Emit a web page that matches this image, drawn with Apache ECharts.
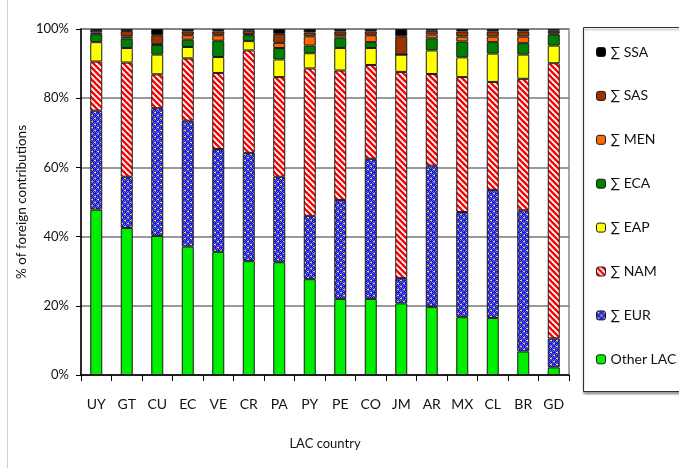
<!DOCTYPE html>
<html>
<head>
<meta charset="utf-8">
<script src="https://cdn.jsdelivr.net/npm/echarts@6/dist/echarts.min.js"></script>
<style>
  html, body { margin: 0; padding: 0; background: #fff; }
  #chart { width: 679px; height: 468px; }
</style>
</head>
<body>
<div id="chart"></div>
<script>
// LAC countries along the x axis
const countries = ['UY', 'GT', 'CU', 'EC', 'VE', 'CR', 'PA', 'PY', 'PE', 'CO', 'JM', 'AR', 'MX', 'CL', 'BR', 'GD'];

// Share of foreign contributions by origin region (%), stacked bottom to top
const otherLAC = [47.8, 42.5, 40.2, 37.1, 35.6, 32.9, 32.6, 27.7, 22.0, 22.0, 20.7, 19.7, 16.7, 16.5, 6.8, 2.2];
const eur      = [28.6, 14.8, 36.9, 36.4, 29.7, 31.3, 24.7, 18.3, 28.6, 40.5, 7.3, 40.8, 30.4, 37.0, 40.8, 8.4];
const nam      = [14.2, 33.0, 9.8, 18.0, 22.0, 29.6, 28.8, 42.6, 37.4, 27.1, 59.6, 26.5, 39.0, 31.2, 38.0, 79.5];
const eap      = [5.6, 4.2, 5.7, 3.3, 4.6, 2.7, 5.1, 4.4, 6.5, 4.9, 5.0, 6.8, 5.7, 8.2, 7.0, 5.1];
const eca      = [2.3, 2.8, 2.8, 2.1, 4.7, 1.7, 3.3, 2.2, 3.0, 1.7, 0.0, 3.5, 4.6, 3.3, 3.3, 3.2];
const men      = [0.5, 0.6, 0.2, 1.3, 1.6, 0.3, 1.5, 2.7, 0.7, 2.0, 0.0, 1.1, 1.4, 1.6, 1.9, 0.3];
const sas      = [0.7, 1.5, 2.6, 1.1, 1.1, 1.0, 2.6, 1.1, 1.1, 1.1, 5.3, 1.1, 1.5, 1.5, 1.5, 0.8];
const ssa      = [0.3, 0.6, 1.8, 0.7, 0.7, 0.5, 1.4, 1.0, 0.7, 0.7, 2.1, 0.5, 0.7, 0.7, 0.7, 0.5];

const yTicks = [0, 20, 40, 60, 80, 100];

// Red diagonal hatch on white
function stripePattern() {
  const s = 6;
  const c = document.createElement('canvas');
  c.width = s; c.height = s;
  const g = c.getContext('2d');
  g.fillStyle = '#ffffff';
  g.fillRect(0, 0, s, s);
  g.strokeStyle = '#ff0000';
  g.lineWidth = 2.4;
  for (let k = -1; k <= 1; k++) {
    g.beginPath();
    g.moveTo(s * k - 1, -1);
    g.lineTo(s * k + s + 1, s + 1);
    g.stroke();
  }
  return { image: c, repeat: 'repeat' };
}

// Blue with a grey checker and small yellow dashes
function dotPattern() {
  const s = 6;
  const c = document.createElement('canvas');
  c.width = s; c.height = s;
  const g = c.getContext('2d');
  g.fillStyle = '#1414ff';
  g.fillRect(0, 0, s, s);
  g.fillStyle = '#7070b0';
  for (let y = 0; y < s; y++) {
    for (let x = 0; x < s; x++) {
      if ((x + y) % 2 === 0 && (y % 3 !== 1)) g.fillRect(x, y, 1, 1);
    }
  }
  g.fillStyle = '#f4e41c';
  g.fillRect(1, 1, 2, 1);
  g.fillRect(4, 4, 2, 1);
  return { image: c, repeat: 'repeat' };
}

const FONT = 'Lato, "Open Sans", sans-serif';
const border = { borderColor: '#1a1a1a', borderWidth: 1 };

function mk(name, data, color) {
  return {
    name: name,
    type: 'bar',
    stack: 'total',
    data: data,
    barWidth: 12,
    itemStyle: Object.assign({ color: color }, border),
    emphasis: { disabled: true }
  };
}

const series = [
  mk('Other LAC', otherLAC, '#00ee00'),
  mk('\u2211 EUR', eur, dotPattern()),
  mk('\u2211 NAM', nam, stripePattern()),
  mk('\u2211 EAP', eap, '#ffff00'),
  mk('\u2211 ECA', eca, '#008000'),
  mk('\u2211 MEN', men, '#ff6600'),
  mk('\u2211 SAS', sas, '#993300'),
  mk('\u2211 SSA', ssa, '#000000')
];

const chart = echarts.init(document.getElementById('chart'), null, { renderer: 'canvas' });
chart.setOption({
  animation: false,
  textStyle: { fontFamily: FONT },
  grid: {
    left: 81, right: 110, top: 29, bottom: 93,
    show: true, borderColor: '#8a8a8a', borderWidth: 1.5, backgroundColor: 'transparent'
  },
  legend: {
    orient: 'vertical',
    left: 591, top: 40,
    itemWidth: 9, itemHeight: 9,
    itemGap: 29.9,
    data: series.map(s => s.name).reverse(),
    textStyle: { fontFamily: FONT, fontSize: 14, color: '#111', lineHeight: 14 },
    selectedMode: false,
    itemStyle: { borderColor: '#1a1a1a', borderWidth: 1 }
  },
  graphic: [
    {
      type: 'rect', z: -1,
      shape: { x: 583.5, y: 27.5, width: 120, height: 364 },
      style: { fill: '#fff', stroke: '#333', lineWidth: 1, shadowColor: 'rgba(0,0,0,0.35)', shadowOffsetY: 2, shadowBlur: 2 }
    },
    {
      type: 'line',
      shape: { x1: 7.5, y1: 0, x2: 7.5, y2: 468 },
      style: { stroke: '#d0d0d0', lineWidth: 1 }
    }
  ],
  xAxis: {
    type: 'category',
    data: countries,
    name: 'LAC country',
    nameLocation: 'middle',
    nameGap: 62,
    nameTextStyle: { fontFamily: FONT, fontSize: 13, color: '#111' },
    axisLine: { lineStyle: { color: '#000', width: 1.5 } },
    axisTick: { show: true, alignWithLabel: false, length: 6, lineStyle: { color: '#000' } },
    axisLabel: { fontFamily: FONT, fontSize: 14, color: '#111', margin: 22 },
    splitLine: { show: false }
  },
  yAxis: {
    type: 'value',
    min: 0, max: 100, interval: 20,
    name: '% of foreign contributions',
    nameLocation: 'middle',
    nameRotate: 90,
    nameGap: 52,
    nameMoveOverlap: false,
    nameTextStyle: { fontFamily: FONT, fontSize: 13.5, color: '#111' },
    axisLine: { show: true, lineStyle: { color: '#000', width: 1.5 } },
    axisTick: { show: true, inside: false, length: 5, lineStyle: { color: '#000' } },
    axisLabel: {
      fontFamily: FONT, fontSize: 13, color: '#111', margin: 12,
      formatter: v => (yTicks.indexOf(v) >= 0 ? v + '%' : '')
    },
    splitLine: { show: true, lineStyle: { color: '#777', width: 1.5 } }
  },
  series: series
});
</script>
</body>
</html>
